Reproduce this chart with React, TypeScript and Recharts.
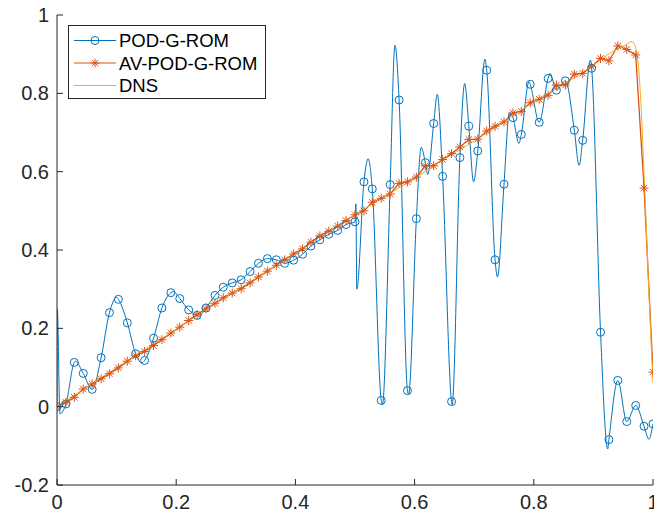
import { LineChart, Line, XAxis, YAxis, Legend } from 'recharts'

// sample positions where the markers sit (same grid for both ROM series)
const markerX = [
  0, 0.015, 0.029, 0.044, 0.059, 0.074, 0.088, 0.103, 0.118, 0.132,
  0.147, 0.162, 0.176, 0.191, 0.206, 0.221, 0.235, 0.25, 0.265, 0.279,
  0.294, 0.309, 0.324, 0.338, 0.353, 0.368, 0.382, 0.397, 0.412, 0.426,
  0.441, 0.456, 0.471, 0.485, 0.5, 0.515, 0.529, 0.544, 0.559, 0.574,
  0.588, 0.603, 0.618, 0.632, 0.647, 0.662, 0.676, 0.691, 0.706, 0.721,
  0.735, 0.75, 0.765, 0.779, 0.794, 0.809, 0.824, 0.838, 0.853, 0.868,
  0.882, 0.897, 0.912, 0.926, 0.941, 0.956, 0.971, 0.985, 1,
]

const podMarkers = [
  0, 0.007, 0.113, 0.085, 0.044, 0.125, 0.24, 0.274, 0.214, 0.135,
  0.118, 0.175, 0.252, 0.291, 0.276, 0.247, 0.233, 0.252, 0.284, 0.305,
  0.316, 0.324, 0.345, 0.366, 0.378, 0.375, 0.366, 0.374, 0.389, 0.41,
  0.426, 0.44, 0.45, 0.465, 0.472, 0.574, 0.556, 0.016, 0.567, 0.783,
  0.041, 0.48, 0.623, 0.723, 0.588, 0.013, 0.636, 0.716, 0.653, 0.859,
  0.375, 0.568, 0.738, 0.695, 0.823, 0.726, 0.838, 0.808, 0.832, 0.706,
  0.68, 0.864, 0.19, -0.084, 0.067, -0.038, 0.003, -0.05, -0.044,
]

const avMarkers = [
  0, 0.011, 0.024, 0.045, 0.058, 0.071, 0.084, 0.099, 0.116, 0.13,
  0.141, 0.156, 0.171, 0.188, 0.203, 0.22, 0.235, 0.25, 0.264, 0.278,
  0.29, 0.301, 0.316, 0.331, 0.346, 0.361, 0.375, 0.39, 0.403, 0.42,
  0.436, 0.448, 0.461, 0.475, 0.49, 0.5, 0.522, 0.532, 0.543, 0.57,
  0.574, 0.586, 0.615, 0.615, 0.631, 0.646, 0.663, 0.682, 0.683, 0.704,
  0.716, 0.727, 0.75, 0.754, 0.776, 0.785, 0.795, 0.821, 0.821, 0.849,
  0.851, 0.868, 0.889, 0.883, 0.921, 0.912, 0.898, 0.558, 0.088,
]

// peaks / troughs of the POD-G-ROM curve between markers
const podExtraX = [
  0.0005, 0.005, 0.031, 0.1, 0.142, 0.195, 0.238,
  0.5015, 0.503, 0.522, 0.546, 0.567, 0.59, 0.611, 0.622, 0.638,
  0.663, 0.684, 0.699, 0.718, 0.739, 0.759, 0.775, 0.792, 0.827,
  0.876, 0.895, 0.924, 0.993,
]
const podExtraY = [
  0.25, -0.018, 0.116, 0.279, 0.112, 0.294, 0.231,
  0.518, 0.3, 0.633, 0.004, 0.923, 0.032, 0.662, 0.593, 0.797,
  0.005, 0.825, 0.574, 0.887, 0.331, 0.75, 0.672, 0.83, 0.851,
  0.616, 0.885, -0.108, -0.083,
]

const dnsX = [
  0, 0.05, 0.1, 0.15, 0.2, 0.25, 0.3, 0.35, 0.4, 0.45, 0.5, 0.55, 0.6,
  0.65, 0.7, 0.75, 0.8, 0.85, 0.9, 0.93, 0.95, 0.965, 0.972, 0.978,
  0.986, 0.994, 1,
]
const dnsY = [
  0, 0.05, 0.1, 0.148, 0.198, 0.248, 0.295, 0.344, 0.39, 0.442, 0.49,
  0.537, 0.583, 0.632, 0.678, 0.727, 0.778, 0.822, 0.872, 0.905, 0.92,
  0.932, 0.91, 0.82, 0.56, 0.26, 0.06,
]

const xTicks = [0, 0.2, 0.4, 0.6, 0.8, 1]
const yTicks = [-0.2, 0, 0.2, 0.4, 0.6, 0.8, 1]

const BLUE = '#0072BD'
const ORANGE = '#D95319'
const YELLOW = '#EDB120'
const AXIS = '#262626'
const FONT = '"Liberation Sans", Arial, Helvetica, sans-serif'

const podPoints = markerX.map((x, i) => ({ x, y: podMarkers[i] }))
const avPoints = markerX.map((x, i) => ({ x, y: avMarkers[i] }))
const podCurve = [
  ...podPoints,
  ...podExtraX.map((x, i) => ({ x, y: podExtraY[i] })),
].sort((a, b) => a.x - b.x)
const dnsCurve = dnsX.map((x, i) => ({ x, y: dnsY[i] }))

const fmt = (v: number) => String(Math.round(v * 10) / 10)

function Asterisk({ cx, cy, color, s = 4.5 }: { cx: number, cy: number, color: string, s?: number }) {
  const d = s * 0.7071
  return (
    <g stroke={color} strokeWidth={1}>
      <line x1={cx - s} y1={cy} x2={cx + s} y2={cy} />
      <line x1={cx} y1={cy - s} x2={cx} y2={cy + s} />
      <line x1={cx - d} y1={cy - d} x2={cx + d} y2={cy + d} />
      <line x1={cx - d} y1={cy + d} x2={cx + d} y2={cy - d} />
    </g>
  )
}

function BottomTick(props: any) {
  const { x, y, payload } = props
  return (
    <g>
      <line x1={x} y1={y} x2={x} y2={y - 6} stroke={AXIS} />
      <text x={x} y={y + 24} textAnchor="middle" fill={AXIS} fontSize={20} fontFamily={FONT}>
        {fmt(payload.value)}
      </text>
    </g>
  )
}

function LeftTick(props: any) {
  const { x, y, payload } = props
  return (
    <g>
      <line x1={x} y1={y} x2={x + 6} y2={y} stroke={AXIS} />
      <text x={x - 8} y={y + 7} textAnchor="end" fill={AXIS} fontSize={20} fontFamily={FONT}>
        {fmt(payload.value)}
      </text>
    </g>
  )
}

function TopTick(props: any) {
  const { x, y } = props
  return <line x1={x} y1={y} x2={x} y2={y + 6} stroke={AXIS} />
}

function RightTick(props: any) {
  const { x, y } = props
  return <line x1={x} y1={y} x2={x - 6} y2={y} stroke={AXIS} />
}

const legendRows = [
  { name: 'POD-G-ROM', color: BLUE, mark: 'circle' },
  { name: 'AV-POD-G-ROM', color: ORANGE, mark: 'star' },
  { name: 'DNS', color: YELLOW, mark: 'none' },
]

function LegendBox() {
  return (
    <div style={{ width: 198, height: 74, boxSizing: 'border-box', border: `1px solid ${AXIS}`, background: '#fff' }}>
      <svg width={196} height={72}>
        {legendRows.map((r, i) => {
          const cy = 14.5 + i * 22.5
          return (
            <g key={r.name}>
              <line x1={5} y1={cy} x2={47} y2={cy} stroke={r.color} strokeWidth={1} />
              {r.mark === 'circle' && <circle cx={26} cy={cy} r={4} fill="none" stroke={r.color} />}
              {r.mark === 'star' && <Asterisk cx={26} cy={cy} color={r.color} />}
              <text x={50} y={cy + 6.6} fontSize={18.5} fontFamily={FONT} fill="#000">{r.name}</text>
            </g>
          )
        })}
      </svg>
    </div>
  )
}

export default function App() {
  return (
    <div style={{ position: 'absolute', left: 0, top: 0, background: '#fff' }}>
      <LineChart width={654} height={518} margin={{ top: 15, right: 1, bottom: 0, left: 0 }}>
        <XAxis
          xAxisId="b" dataKey="x" type="number" domain={[0, 1]} ticks={xTicks}
          allowDataOverflow height={33} tickSize={0} tickMargin={0}
          axisLine={{ stroke: AXIS }} tickLine={false} tick={<BottomTick />} interval={0}
        />
        <XAxis
          xAxisId="t" orientation="top" dataKey="x" type="number" domain={[0, 1]} ticks={xTicks}
          allowDataOverflow height={0} tickSize={0} tickMargin={0}
          axisLine={{ stroke: AXIS }} tickLine={false} tick={<TopTick />} interval={0}
        />
        <YAxis
          yAxisId="l" type="number" domain={[-0.2, 1]} ticks={yTicks} allowDataOverflow
          width={57} tickSize={0} tickMargin={0}
          axisLine={{ stroke: AXIS }} tickLine={false} tick={<LeftTick />} interval={0}
        />
        <YAxis
          yAxisId="r" orientation="right" type="number" domain={[-0.2, 1]} ticks={yTicks} allowDataOverflow
          width={0} tickSize={0} tickMargin={0}
          axisLine={{ stroke: AXIS }} tickLine={false} tick={<RightTick />} interval={0}
        />
        <Line
          xAxisId="b" yAxisId="l" data={podCurve} dataKey="y" type="monotone"
          stroke={BLUE} strokeWidth={1} dot={false} activeDot={false} isAnimationActive={false}
        />
        <Line
          xAxisId="b" yAxisId="l" data={podPoints} dataKey="y" stroke="none" activeDot={false}
          isAnimationActive={false}
          dot={(p: any) => <circle key={`pc${p.index}`} cx={p.cx} cy={p.cy} r={4} fill="none" stroke={BLUE} strokeWidth={1} />}
        />
        <Line
          xAxisId="b" yAxisId="l" data={avPoints} dataKey="y" type="linear"
          stroke={ORANGE} strokeWidth={1.3} activeDot={false} isAnimationActive={false}
          dot={(p: any) => <Asterisk key={`as${p.index}`} cx={p.cx} cy={p.cy} color={ORANGE} />}
        />
        <Line
          xAxisId="b" yAxisId="l" data={dnsCurve} dataKey="y" type="monotone"
          stroke={YELLOW} strokeWidth={1} dot={false} activeDot={false} isAnimationActive={false}
        />
        <Legend
          layout="vertical" align="center" verticalAlign="middle"
          wrapperStyle={{ left: 68, top: 25, width: 198, height: 74 }}
          content={() => <LegendBox />}
        />
      </LineChart>
    </div>
  )
}
